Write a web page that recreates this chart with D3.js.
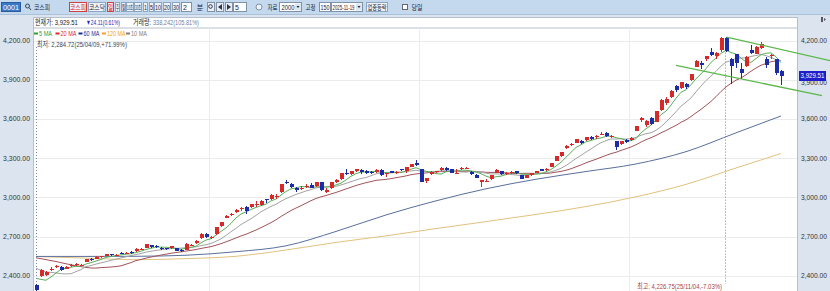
<!DOCTYPE html>
<html>
<head>
<meta charset="utf-8">
<script src="https://cdn.jsdelivr.net/npm/d3@7"></script>
<style>
  body { margin: 0; background: #fff; }
  svg { display: block; }
</style>
</head>
<body>
<div id="chart"></div>
<script>
// KOSPI daily, 25/04/09 - 25/11/19 (150 bars)
const days = [
  "25/04/09","25/04/10","25/04/11","25/04/14","25/04/15","25/04/16","25/04/17","25/04/18","25/04/21","25/04/22","25/04/23","25/04/24","25/04/25","25/04/28","25/04/29","25/04/30",
  "25/05/02","25/05/07","25/05/08","25/05/09","25/05/12","25/05/13","25/05/14","25/05/15","25/05/16","25/05/19","25/05/20","25/05/21","25/05/22","25/05/23","25/05/26","25/05/27","25/05/28","25/05/29","25/05/30",
  "25/06/02","25/06/04","25/06/05","25/06/09","25/06/10","25/06/11","25/06/12","25/06/13","25/06/16","25/06/17","25/06/18","25/06/19","25/06/20","25/06/23","25/06/24","25/06/25","25/06/26","25/06/27","25/06/30",
  "25/07/01","25/07/02","25/07/03","25/07/04","25/07/07","25/07/08","25/07/09","25/07/10","25/07/11","25/07/14","25/07/15","25/07/16","25/07/17","25/07/18","25/07/21","25/07/22","25/07/23","25/07/24","25/07/25","25/07/28","25/07/29","25/07/30","25/07/31",
  "25/08/01","25/08/04","25/08/05","25/08/06","25/08/07","25/08/08","25/08/11","25/08/12","25/08/13","25/08/14","25/08/18","25/08/19","25/08/20","25/08/21","25/08/22","25/08/25","25/08/26","25/08/27","25/08/28","25/08/29",
  "25/09/01","25/09/02","25/09/03","25/09/04","25/09/05","25/09/08","25/09/09","25/09/10","25/09/11","25/09/12","25/09/15","25/09/16","25/09/17","25/09/18","25/09/19","25/09/22","25/09/23","25/09/24","25/09/25","25/09/26","25/09/29","25/09/30",
  "25/10/01","25/10/02","25/10/10","25/10/13","25/10/14","25/10/15","25/10/16","25/10/17","25/10/20","25/10/21","25/10/22","25/10/23","25/10/24","25/10/27","25/10/28","25/10/29","25/10/30","25/10/31",
  "25/11/03","25/11/04","25/11/05","25/11/06","25/11/07","25/11/10","25/11/11","25/11/12","25/11/13","25/11/14","25/11/17","25/11/18","25/11/19"
];

const opens = [
  2330,2400,2405,2452,2466,2470,2455,2478,2480,2480,2510,2530,2530,2545,2555,2565,
  2556,2578,2575,2580,2590,2605,2615,2635,2630,2615,2610,2610,2610,2600,2600,2633,2648,2690,2720,
  2690,2720,2780,2845,2868,2885,2910,2930,2925,2948,2940,2985,2985,3000,3040,3120,3100,3070,3069,
  3087,3095,3085,3115,3045,3070,3115,3140,3190,3180,3205,3210,3200,3195,3195,3210,3182,3200,3185,3215,3205,3235,3265,
  3215,3125,3180,3192,3210,3225,3215,3190,3223,3224,3195,3175,3120,3127,3140,3190,3200,3180,3185,3200,
  3170,3150,3170,3190,3215,3210,3235,3280,3320,3375,3405,3420,3430,3440,3460,3460,3485,3495,3465,3430,3405,3440,
  3440,3510,3595,3555,3610,3580,3665,3725,3765,3850,3835,3870,3895,4000,4025,4060,4110,4080,
  4125,4222,4060,4095,3985,4005,4125,4100,4140,4060,4080,4055,3965
];
const highs = [
  2340,2450,2440,2465,2480,2475,2475,2490,2495,2492,2530,2535,2550,2555,2570,2570,
  2570,2582,2585,2590,2610,2615,2645,2640,2635,2620,2615,2630,2612,2605,2648,2645,2675,2725,2725,
  2705,2775,2815,2865,2880,2910,2925,2935,2950,2975,2980,2990,3025,3025,3105,3133,3110,3080,3085,
  3105,3110,3120,3120,3070,3120,3140,3185,3215,3205,3220,3215,3210,3205,3215,3215,3190,3205,3200,3220,3235,3258,3290,
  3220,3150,3200,3205,3230,3230,3220,3215,3235,3235,3200,3180,3135,3140,3170,3215,3205,3195,3200,3205,
  3175,3175,3190,3205,3220,3225,3265,3317,3350,3400,3420,3450,3440,3465,3470,3475,3497,3500,3480,3435,3435,3450,
  3460,3550,3617,3590,3617,3660,3750,3770,3820,3860,3885,3875,3945,4050,4040,4085,4146,4110,
  4225,4226.75,4065,4100,4030,4080,4165,4160,4185,4075,4095,4060,3975
];
const lows = [
  2284.72,2390,2398,2440,2460,2440,2450,2470,2475,2474,2505,2515,2528,2538,2550,2550,
  2550,2565,2570,2570,2585,2595,2612,2615,2615,2598,2595,2605,2588,2585,2598,2625,2645,2685,2690,
  2685,2715,2775,2840,2855,2880,2900,2870,2920,2930,2935,2960,2980,2990,3035,3100,3070,3045,3060,
  3075,3070,3080,3050,3035,3065,3110,3135,3170,3170,3195,3180,3180,3180,3185,3165,3160,3185,3180,3200,3190,3230,3240,
  3115,3110,3175,3185,3205,3205,3185,3180,3210,3215,3170,3145,3080,3115,3135,3185,3175,3170,3180,3180,
  3140,3145,3165,3185,3200,3205,3230,3275,3310,3370,3395,3415,3405,3430,3440,3450,3475,3465,3455,3365,3400,3420,
  3435,3505,3580,3540,3555,3575,3660,3710,3760,3810,3830,3830,3890,3995,3980,4040,4080,4060,
  4110,4115,3867,3990,3905,3995,4095,4100,4135,3990,4055,3940,3860
];
const closes = [
  2293.70,2445.06,2432.72,2455.89,2477.41,2447.44,2470.40,2483.42,2488.42,2486.64,2525.56,2522.33,2546.30,2548.86,2565.42,2556.61,
  2559.79,2573.80,2577.27,2577.12,2607.33,2608.42,2640.57,2621.01,2626.87,2603.42,2603.15,2625.58,2593.67,2592.09,2644.40,2637.22,2670.03,2720.64,2697.67,
  2698.97,2770.84,2812.05,2855.77,2871.85,2907.04,2920.03,2894.62,2946.66,2950.30,2972.65,2977.74,3021.84,3014.47,3103.64,3108.35,3079.56,3055.94,3071.70,
  3089.65,3075.06,3116.27,3054.28,3059.47,3114.95,3133.74,3183.23,3175.77,3202.03,3215.28,3192.29,3190.45,3188.07,3210.81,3169.94,3183.77,3190.45,3196.05,3209.52,3230.57,3254.47,3245.44,
  3119.41,3147.75,3198.00,3198.66,3227.68,3210.01,3189.91,3190.50,3224.37,3225.66,3177.28,3151.56,3130.09,3128.28,3168.73,3209.86,3179.36,3187.14,3196.32,3186.01,
  3142.93,3172.35,3184.42,3200.83,3205.12,3219.59,3260.05,3314.53,3344.70,3395.54,3407.31,3449.62,3413.86,3461.30,3445.24,3468.65,3486.19,3472.14,3471.11,3386.05,3431.21,3424.60,
  3455.83,3549.21,3610.60,3584.55,3561.81,3657.28,3748.37,3748.89,3814.69,3823.84,3883.68,3845.56,3941.59,4042.83,4010.41,4081.15,4086.89,4107.50,
  4221.87,4121.74,4004.42,4026.45,3953.62,4073.24,4106.39,4150.39,4170.63,4011.57,4089.25,3953.62,3929.51
];
// closes before 25/04/09, needed for the short moving averages at the left edge
const priorCloses = [2583.27,2566.36,2610.69,2612.34,2628.62,2637.10,2643.13,2632.13,2626.97,2643.94,2607.15,2557.98,2481.12,2521.39,2505.86,2486.70,2465.42,2328.20,2334.23];

// long averages at every 10th bar
const longMaIdx = [0,10,20,30,40,50,60,70,80,90,100,110,120,130,140,149];
const ma60Vals  = [2549,2549,2550,2558,2585,2630,2740,2866,2974,3066,3139,3198,3256,3350,3494,3623];
const ma120Vals = [2548,2536,2524,2532,2550,2598,2656,2706,2762,2815,2870,2930,3005,3100,3225,3336];

const yTicks = [2400,2700,3000,3300,3600,3900,4200];
const maNames = ["5 MA","20 MA","60 MA","120 MA","10 MA"];
const maColors = ["#2f9e2f","#e02828","#1f2f8f","#f0a02a","#808080"];
const maLineColors = {5:"#5aae5a",10:"#a3a3a3",20:"#a2545a",60:"#5a6f9e",120:"#e2c27e"};

// trend channel (bar index, price)
const trendUpper = [[138.1,4226],[158.8,4046]];
const trendLower = [[128,4009],[157.2,3778]];

const volumeText = "338,242(105.81%)";

const W = 830, H = 291;
const P = {left: 33, right: 798, top: 28, bottom: 291};

const x = d3.scaleLinear().domain([0, 149]).range([36, 781]);
const y = d3.scaleLinear().domain([2400, 4200]).range([275.9, 40.5]);
const fmt = d3.format(",.2f");

const svg = d3.select("#chart").append("svg")
  .attr("width", W).attr("height", H)
  .style("font-family", "'Liberation Sans','Noto Sans CJK KR',sans-serif");

// squeeze a text horizontally to a given width, keeping its glyph height
function fit(t, w) {
  const n = t.node().getComputedTextLength();
  const x0 = +t.attr("x"), y0 = +t.attr("y");
  t.attr("x", 0).attr("y", 0).attr("transform", `translate(${x0},${y0}) scale(${Math.min(1.4, w / n)},1)`);
  return t;
}

// ---------- toolbar ----------
svg.append("rect").attr("width", W).attr("height", H).attr("fill", "#dce5ef");
svg.append("rect").attr("width", W).attr("height", 14).attr("fill", "#c4d9ed");
svg.append("line").attr("x1", 0).attr("x2", W).attr("y1", 14.5).attr("y2", 14.5).attr("stroke", "#a9c1d9");

const tb = svg.append("g").style("font-size", "7px");
function box(x0, x1, fill, stroke) {
  tb.append("rect").attr("x", x0 + 0.5).attr("y", 2.5).attr("width", x1 - x0 - 1).attr("height", 9)
    .attr("fill", fill).attr("stroke", stroke);
}
function label(xc, txt, color, len) {
  const t = tb.append("text").attr("x", xc).attr("y", 9.6).attr("text-anchor", "middle")
    .attr("fill", color).text(txt);
  if (len) fit(t, len);
}
box(1, 21, "#3a79c8", "#2a5c9e"); label(11, "0001", "#fff", 16);
tb.append("circle").attr("cx", 27.5).attr("cy", 6).attr("r", 2).attr("fill", "none").attr("stroke", "#345");
tb.append("line").attr("x1", 29).attr("y1", 7.5).attr("x2", 31).attr("y2", 10).attr("stroke", "#345");
label(42, "코스피", "#223", 16);
[[69,87,"코스피","#d02020"],[88,106,"코스닥","#223"],[107,114,"일","#d02020"],[115,120,"주","#223"],[121,126,"월","#223"],
 [126,134,"10초","#223"],[134,142,"30초","#223"],[143,148,"1","#223"],[149,154,"5","#223"],[154,162,"10","#223"],
 [163,171,"20","#223"],[172,180,"30","#223"]].forEach(b => {
  box(b[0], b[1], b[2] === "일" ? "#fbe3e3" : "#eef3f9", b[2] === "일" || b[0] === 69 ? "#d04040" : "#8da7c2");
  label((b[0] + b[1]) / 2, b[2], b[3], b[1] - b[0] - 2);
});
box(181, 192, "#fff", "#7f93a8"); label(185, "2", "#223");
label(200, "분", "#223");
[[207,215],[216,224],[225,233]].forEach(b => box(b[0], b[1], "#e9eef5", "#7f93a8"));
tb.append("path").attr("d", "M218,7 l4,-3 v6z").attr("fill", "#334");
tb.append("path").attr("d", "M231,7 l-4,-3 v6z").attr("fill", "#334");
tb.append("circle").attr("cx", 210.5).attr("cy", 6.5).attr("r", 1.8).attr("fill", "none").attr("stroke", "#334");
box(233, 247, "#fff", "#7f93a8"); label(237, "5", "#223");
tb.append("circle").attr("cx", 259).attr("cy", 7).attr("r", 3).attr("fill", "#eef3f9").attr("stroke", "#7f93a8");
label(272.5, "자료", "#223", 10);
box(279, 302, "#fff", "#7f93a8"); label(288, "2000", "#223", 13);
tb.append("rect").attr("x", 295).attr("y", 3.5).attr("width", 6).attr("height", 7).attr("fill", "#dde5ee");
tb.append("path").attr("d", "M296.5,6 h3 l-1.5,2z").attr("fill", "#223");
label(310.5, "고정", "#223", 10);
box(319, 331, "#fff", "#7f93a8"); label(325, "150", "#223", 9);
box(331, 363, "#fff", "#7f93a8"); label(343.5, "2025-11-19", "#223", 22);
tb.append("rect").attr("x", 356).attr("y", 3.5).attr("width", 6).attr("height", 7).attr("fill", "#dde5ee");
tb.append("path").attr("d", "M357.5,6 h3 l-1.5,2z").attr("fill", "#223");
box(366, 388, "#eef3f9", "#8da7c2"); label(377, "업종등락", "#223", 19);
tb.append("rect").attr("x", 402.5).attr("y", 4.5).attr("width", 5).attr("height", 5).attr("fill", "#fff").attr("stroke", "#667");
label(417, "당일", "#223", 11);

// ---------- frames ----------
svg.append("rect").attr("x", P.left).attr("y", 17).attr("width", P.right - P.left).attr("height", H - 17)
  .attr("fill", "#fff");
svg.append("rect").attr("x", P.left + 0.5).attr("y", 17.5).attr("width", P.right - P.left - 1).attr("height", 10.5)
  .attr("fill", "#fff").attr("stroke", "#b4c0cc");
svg.append("line").attr("x1", P.left + 0.5).attr("x2", P.left + 0.5).attr("y1", 17).attr("y2", H).attr("stroke", "#b4c0cc");
svg.append("line").attr("x1", P.right - 0.5).attr("x2", P.right - 0.5).attr("y1", 17).attr("y2", H).attr("stroke", "#b4c0cc");
svg.append("rect").attr("x", 821).attr("y", 17).attr("width", 2).attr("height", 5).attr("fill", "#556");
svg.append("path").attr("d", "M824,18 l2,1.5 l-2,1.5z").attr("fill", "#556");

// ---------- grid ----------
const grid = svg.append("g").attr("stroke", "#ececec").attr("shape-rendering", "crispEdges");
grid.selectAll("line.h").data(yTicks).join("line")
  .attr("x1", P.left + 1).attr("x2", P.right - 1)
  .attr("y1", d => Math.round(y(d)) + 0.5).attr("y2", d => Math.round(y(d)) + 0.5);
const monthStarts = d3.range(1, days.length).filter(i =>
  days[i].slice(3, 5) !== days[i - 1].slice(3, 5) && (+days[i].slice(3, 5)) % 2 === 0);
grid.selectAll("line.v").data(monthStarts).join("line")
  .attr("x1", i => Math.round(x(i - 0.5)) + 0.5).attr("x2", i => Math.round(x(i - 0.5)) + 0.5)
  .attr("y1", P.top).attr("y2", H);

// ---------- moving averages ----------
svg.append("clipPath").attr("id", "plotClip").append("rect")
  .attr("x", P.left + 1).attr("y", P.top).attr("width", P.right - P.left - 2).attr("height", H - P.top);
const mas = svg.append("g").attr("clip-path", "url(#plotClip)").attr("fill", "none").attr("stroke-width", 1);

const allCloses = priorCloses.concat(closes);
function movingAvg(n) {
  return closes.map((c, i) => d3.mean(allCloses.slice(priorCloses.length + i - n + 1, priorCloses.length + i + 1)));
}
const line = d3.line().x(d => x(d[0])).y(d => y(d[1]));
const smooth = d3.line().x(d => x(d[0])).y(d => y(d[1])).curve(d3.curveMonotoneX);

mas.append("path").attr("d", smooth(longMaIdx.map((i, k) => [i, ma120Vals[k]]))).attr("stroke", maLineColors[120]);
mas.append("path").attr("d", smooth(longMaIdx.map((i, k) => [i, ma60Vals[k]]))).attr("stroke", maLineColors[60]);
[20, 10, 5].forEach(n => {
  mas.append("path").attr("d", line(movingAvg(n).map((v, i) => [i, v]))).attr("stroke", maLineColors[n]);
});

// ---------- candles ----------
const up = "#d42a2a", down = "#1c2ca6";
const candles = svg.append("g").attr("clip-path", "url(#plotClip)").attr("shape-rendering", "crispEdges")
  .selectAll("g").data(d3.range(closes.length)).join("g");
candles.append("line")
  .attr("x1", i => Math.round(x(i)) + 0.5).attr("x2", i => Math.round(x(i)) + 0.5)
  .attr("y1", i => y(highs[i])).attr("y2", i => y(lows[i]))
  .attr("stroke", i => closes[i] >= opens[i] ? up : down);
candles.append("rect")
  .attr("x", i => Math.round(x(i)) - 1.5)
  .attr("y", i => Math.round(y(Math.max(opens[i], closes[i]))))
  .attr("width", 4)
  .attr("height", i => Math.max(1, Math.round(y(Math.min(opens[i], closes[i]))) - Math.round(y(Math.max(opens[i], closes[i])))))
  .attr("fill", i => closes[i] >= opens[i] ? up : down);

// ---------- high / low markers ----------
const last = closes[closes.length - 1];
const lowIdx = d3.minIndex(lows), highIdx = d3.maxIndex(highs);
const pctOf = v => { const p = (last / v - 1) * 100; return (p >= 0 ? "+" : "") + p.toFixed(2) + "%"; };

svg.append("line")
  .attr("x1", Math.round(x(lowIdx)) + 0.5).attr("x2", Math.round(x(lowIdx)) + 0.5)
  .attr("y1", 47).attr("y2", y(highs[lowIdx]) - 1)
  .attr("stroke", "#7a86a8").attr("stroke-dasharray", "1,2");
svg.append("line")
  .attr("x1", Math.round(x(highIdx)) - 0.5).attr("x2", Math.round(x(highIdx)) - 0.5)
  .attr("y1", y(lows[highIdx]) + 1).attr("y2", 284)
  .attr("stroke", "#b87070").attr("stroke-dasharray", "1,2");

fit(svg.append("text").attr("x", 37).attr("y", 46.5).attr("font-size", "7.5px").attr("fill", "#3a3f55")
  .text("최저: " + fmt(lows[lowIdx]) + "(" + days[lowIdx] + "," + pctOf(lows[lowIdx]) + ")"), 90);
fit(svg.append("text").attr("x", 722).attr("y", 288.5).attr("font-size", "7.5px").attr("fill", "#a84646")
  .attr("text-anchor", "end")
  .text("최고: " + fmt(highs[highIdx]) + "(" + days[highIdx] + "," + pctOf(highs[highIdx]) + ")"), 85);

// ---------- info row + legend ----------
const chg = last - closes[closes.length - 2];
const info = svg.append("g").attr("font-size", "7.5px");
fit(info.append("text").attr("x", 35).attr("y", 25.2).attr("fill", "#222").text("현재가: " + fmt(last)), 43);
fit(info.append("text").attr("x", 86).attr("y", 25.2).attr("fill", "#1a2fb8")
  .text((chg < 0 ? "▼" : "▲") + fmt(Math.abs(chg)) + "(" + (Math.abs(chg) / closes[closes.length - 2] * 100).toFixed(2) + "%)"), 34);
fit(info.append("text").attr("x", 133).attr("y", 25.2).attr("fill", "#222").text("거래량:"), 18);
fit(info.append("text").attr("x", 153).attr("y", 25.2).attr("fill", "#6b7fa6").text(volumeText), 46);

const legX = [34, 55.5, 78.5, 102, 126];
const legW = [13, 16, 16, 18.5, 16];
const leg = svg.append("g").attr("font-size", "6.5px");
maNames.forEach((name, k) => {
  leg.append("rect").attr("x", legX[k]).attr("y", 32.5).attr("width", 4).attr("height", 2).attr("fill", maColors[k]);
  fit(leg.append("text").attr("x", legX[k] + 5).attr("y", 36).attr("fill", maColors[k]).text(name), legW[k]);
});

// ---------- axes ----------
const axes = svg.append("g").attr("font-size", "7px").attr("fill", "#333");
axes.selectAll("text.l").data(yTicks).join("text")
  .attr("x", 30).attr("y", d => y(d)).attr("dy", "0.35em").attr("text-anchor", "end").text(fmt)
  .each(function () { fit(d3.select(this), 27); });
axes.selectAll("text.r").data(yTicks).join("text")
  .attr("x", 801).attr("y", d => y(d) + (d === 3900 ? 2.5 : 0)).attr("dy", "0.35em").text(fmt)
  .each(function () { fit(d3.select(this), 26); });

svg.append("rect").attr("x", 799).attr("y", Math.round(y(last)) - 5).attr("width", 27).attr("height", 10)
  .attr("fill", "#1d1dcc");
fit(svg.append("text").attr("x", 800.5).attr("y", y(last)).attr("dy", "0.35em").attr("font-size", "7px")
  .attr("fill", "#fff").text(fmt(last)), 24);

// ---------- trend channel ----------
const trend = svg.append("g").attr("stroke", "#5cb84a").attr("stroke-width", 1.3).attr("fill", "none");
[trendUpper, trendLower].forEach(t => trend.append("path").attr("d", line(t)));
</script>
</body>
</html>
